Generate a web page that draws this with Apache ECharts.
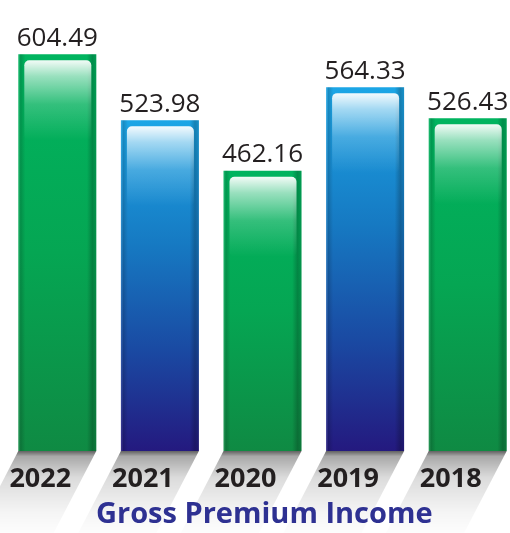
<!DOCTYPE html>
<html>
<head>
<meta charset="utf-8">
<script src="https://cdn.jsdelivr.net/npm/echarts@6/dist/echarts.min.js"></script>
<style>
  html, body { margin: 0; padding: 0; background: #ffffff; overflow: hidden; }
  #chart { width: 524px; height: 533px; }
</style>
</head>
<body>
<div id="chart"></div>
<script>
// Gross premium income by year
const years = ['2022', '2021', '2020', '2019', '2018'];
const premium = [604.49, 523.98, 462.16, 564.33, 526.43];
const barTone = ['green', 'blue', 'green', 'blue', 'green'];
const chartTitle = 'Gross Premium Income';

const Y_MIN = 120;
const Y_MAX = 650;
const BAR_W = 78;
const FONT = '"Open Sans", "DejaVu Sans", sans-serif';

const toneStops = {
  green: [[0, '#00b45f'], [0.5, '#05a653'], [1, '#0f8a43']],
  blue: [[0, '#1ca6e6'], [0.38, '#1679c2'], [0.7, '#1a49a2'], [1, '#24197f']]
};

function linear(x2, y2, stops) {
  return {
    type: 'linear', x: 0, y: 0, x2: x2, y2: y2,
    colorStops: stops.map(s => ({ offset: s[0], color: s[1] }))
  };
}

const edgeShade = linear(1, 0, [
  [0, 'rgba(255,255,255,0.10)'], [0.03, 'rgba(0,0,0,0.16)'], [0.09, 'rgba(0,0,0,0)'],
  [0.88, 'rgba(0,0,0,0)'], [0.95, 'rgba(0,0,0,0.22)'], [1, 'rgba(0,0,0,0.12)']
]);
const gloss = linear(0, 1, [
  [0, 'rgba(255,255,255,0.95)'], [0.2, 'rgba(255,255,255,0.6)'],
  [0.55, 'rgba(255,255,255,0.2)'], [1, 'rgba(255,255,255,0)']
]);
const floorShadow = linear(0, 1, [
  [0, 'rgba(0,0,0,0.62)'], [0.06, 'rgba(0,0,0,0.34)'], [0.3, 'rgba(0,0,0,0.14)'],
  [0.7, 'rgba(0,0,0,0.04)'], [1, 'rgba(0,0,0,0)']
]);

function renderBar(params, api) {
  const idx = api.value(0);
  const val = api.value(1);
  const top = api.coord([idx, val]);
  const base = api.coord([idx, Y_MIN]);
  const cx = top[0];
  const x0 = cx - BAR_W / 2;
  const x1 = cx + BAR_W / 2;
  const h = base[1] - top[1];
  const sh = 88, slant = 0.52;
  const tone = toneStops[barTone[params.dataIndex]];
  return {
    type: 'group',
    children: [
      {
        type: 'polygon', silent: true,
        shape: { points: [[x0, base[1]], [x1, base[1]], [x1 - sh * slant, base[1] + sh], [x0 - sh * slant, base[1] + sh]] },
        style: { fill: floorShadow }
      },
      { type: 'rect', shape: { x: x0, y: top[1], width: BAR_W, height: h }, style: { fill: linear(0, 1, tone) } },
      { type: 'rect', silent: true, shape: { x: x0, y: top[1], width: BAR_W, height: h }, style: { fill: edgeShade } },
      {
        type: 'rect', silent: true,
        shape: { x: x0 + 6, y: top[1] + 6, width: BAR_W - 11, height: Math.min(80, h - 12), r: 5 },
        style: { fill: gloss }
      },
      {
        type: 'text', silent: true,
        style: {
          text: val.toFixed(2), x: cx, y: top[1] - 3,
          align: 'center', verticalAlign: 'bottom',
          font: '26px ' + FONT, fill: '#231f20'
        }
      }
    ]
  };
}

const chart = echarts.init(document.getElementById('chart'));
chart.setOption({
  animation: false,
  title: {
    text: chartTitle, left: 96, top: 500, padding: 0,
    textStyle: { fontSize: 29, fontWeight: 'bold', color: '#2e3192', fontFamily: FONT }
  },
  grid: { left: 6, top: 17, width: 513, bottom: 82, containLabel: false },
  xAxis: {
    type: 'category', data: years, z: 10,
    axisLine: { show: false }, axisTick: { show: false }, splitLine: { show: false },
    axisLabel: {
      margin: 15, padding: [0, 34, 0, 0],
      fontSize: 27, fontWeight: 'bold', color: '#231f20', fontFamily: FONT
    }
  },
  yAxis: { type: 'value', min: Y_MIN, max: Y_MAX, show: false },
  series: [{
    type: 'custom',
    renderItem: renderBar,
    encode: { x: 0, y: 1 },
    data: premium.map((v, i) => [i, v]),
    clip: false
  }]
});
</script>
</body>
</html>
